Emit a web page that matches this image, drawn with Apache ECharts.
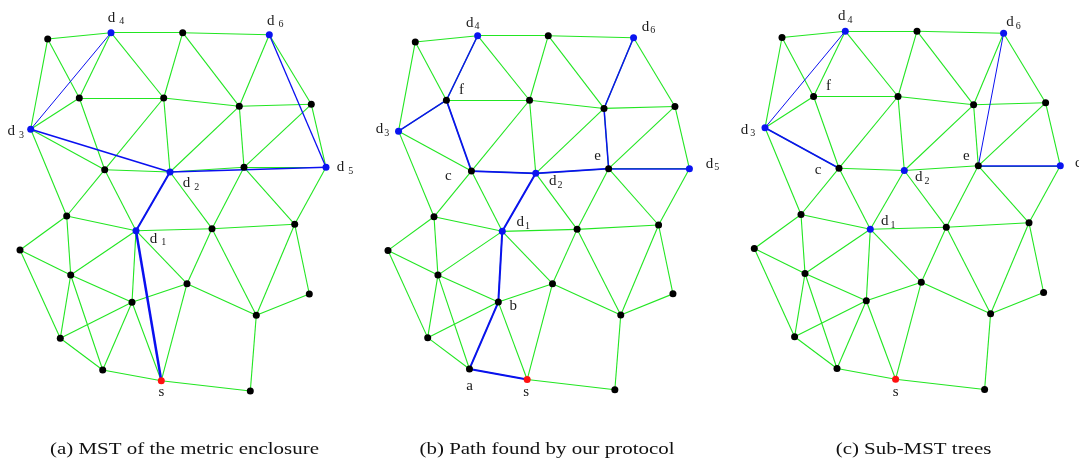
<!DOCTYPE html>
<html><head><meta charset="utf-8">
<script src="https://cdn.jsdelivr.net/npm/echarts@6/dist/echarts.min.js"></script>
<style>html,body{margin:0;padding:0;background:#fff}#c{width:1079px;height:460px}</style>
</head><body><div id="c"></div>
<script>
// Node positions of the network (drawn in panel (a) frame)
const nodes = [
  [47.7,39],[111,32.7],[182.7,32.7],[269.3,34.7],[79.3,98],[163.7,98],[239.3,106.3],[311.3,104.3],
  [30.7,129.3],[104.7,169.7],[170,172],[244,167.3],[326,167.3],[66.7,216],[136,230.7],[212,228.7],
  [294.7,224.3],[20,250],[70.7,275],[187,283.7],[309.3,294],[132,302.3],[256.3,315.3],[60.3,338.3],
  [102.7,370],[161.3,380.7],[250.3,391]
];
// Network links (green)
const greenEdges = [
  [0,1],[1,2],[2,3],[0,8],[0,4],[1,4],[1,5],[2,5],[2,6],[3,6],[3,7],[4,5],[5,6],[6,7],[7,12],
  [8,4],[8,9],[8,13],[4,9],[5,9],[5,10],[6,10],[6,11],[7,11],[9,10],[10,11],[11,12],[9,13],[9,14],
  [10,14],[10,15],[11,15],[11,16],[12,16],[13,14],[14,15],[15,16],[13,17],[13,18],[14,18],[14,21],
  [14,19],[15,19],[15,22],[16,22],[16,20],[17,18],[17,23],[18,21],[18,23],[18,24],[21,19],[19,22],
  [20,22],[21,23],[21,24],[21,25],[19,25],[23,24],[24,25],[25,26],[22,26]
];
// Tree edges (blue) per panel
const blueA = [[8,1],[8,10],[10,12],[3,12],[10,14],[14,25]];
const blueB = [[1,4],[4,8],[4,9],[9,10],[10,11],[11,12],[11,6],[6,3],[10,14],[14,21],[21,24],[24,25]];
const blueC = [[8,1],[8,9],[11,3],[11,12]];
const destNodes = [14,10,8,1,12,3];
const sourceNode = 25;
const labelsA = {1:'d4',3:'d6',8:'d3',10:'d2',12:'d5',14:'d1',25:'s'};
const labelsB = {1:'d4',3:'d6',4:'f',8:'d3',9:'c',10:'d2',11:'e',12:'d5',14:'d1',21:'b',24:'a',25:'s'};
const labelsC = {1:'d4',3:'d6',4:'f',8:'d3',9:'c',10:'d2',11:'e',12:'d5',14:'d1',25:'s'};
const captions = ['(a) MST of the metric enclosure','(b) Path found by our protocol','(c) Sub-MST trees'];

// Layout / style
const GREEN = '#22e622', BLUE = '#0a10f0', FONT = '"Liberation Serif","DejaVu Serif",serif';
const panels = [
  {t:[1,0,1,0], blue:blueA, blueW:[1,1.6,1.6,1.3,2,2.5], labels:labelsA, gap:4, cap:184.5,
   off:{1:[5,-15],3:[6,-14],8:[-15,2],10:[21,11],12:[19,0],14:[22,8],25:[0,11]}},
  {t:[0.985,368.3,0.988,3.4], blue:blueB, blueW:[1.5,1.5,1.8,1.8,1.8,1.5,1.5,1.5,2,2,2,2], labels:labelsB, gap:1, cap:547,
   off:{1:[-5,-13],3:[15,-11],4:[15,-10],8:[-16,-2],9:[-23,5],10:[20,8],11:[-11,-13],12:[23,-5],14:[21,-9],21:[15,4],24:[0,17],25:[-1,13]}},
  {t:[1,734.3,1,-1.5], blue:blueC, blueW:[1,1.6,1,1.6], labels:labelsC, gap:2, cap:913.5,
   off:{1:[0,-15],3:[10,-11],4:[15,-10],8:[-17,2],9:[-21,2],10:[18,7],11:[-12,-10],12:[22,-3],14:[18,-8],25:[0,13]}}
];

const series = [];
panels.forEach(p => {
  const [sx,ox,sy,oy] = p.t;
  const P = nodes.map(n => [n[0]*sx+ox, n[1]*sy+oy]);
  series.push({type:'lines', coordinateSystem:'cartesian2d', silent:true, z:1,
    lineStyle:{color:GREEN, width:1.1, opacity:1},
    data: greenEdges.map(e => ({coords:[P[e[0]],P[e[1]]]}))});
  series.push({type:'lines', coordinateSystem:'cartesian2d', silent:true, z:2,
    lineStyle:{color:BLUE, opacity:1},
    data: p.blue.map((e,i) => ({coords:[P[e[0]],P[e[1]]], lineStyle:{width:p.blueW[i]}}))});
  series.push({type:'scatter', silent:true, z:3, symbolSize:7,
    itemStyle:{opacity:1},
    data: P.map((pt,i) => {
      const col = i===sourceNode ? '#ff1010' : (destNodes.includes(i) ? '#0a14f0' : '#000');
      const item = {value:pt, itemStyle:{color:col, opacity:1}};
      const lab = p.labels[i];
      if (lab) {
        item.label = {show:true, position:'inside', offset:p.off[i], align:'center', verticalAlign:'middle',
          formatter: lab.length===2 ? '{m|'+lab[0]+'}{s|'+lab[1]+'}' : '{m|'+lab+'}',
          rich:{m:{fontSize:15, fontFamily:FONT, color:'#1a1a1a'},
                s:{fontSize:10, fontFamily:FONT, color:'#1a1a1a', padding:[8,0,0,p.gap]}}};
      }
      return item;
    })});
});

const chart = echarts.init(document.getElementById('c'), null, {renderer:'canvas'});
chart.setOption({
  animation:false,
  grid:{left:0,right:0,top:0,bottom:0},
  xAxis:{type:'value', min:0, max:1079, show:false},
  yAxis:{type:'value', min:0, max:460, inverse:true, show:false},
  series:series,
  graphic: panels.map((p,i) => ({type:'text', x:p.cap, y:449.5, scaleX:1.23, silent:true,
    style:{text:captions[i], font:'17px '+FONT, fill:'#111', align:'center', verticalAlign:'middle'}}))
});
</script></body></html>
